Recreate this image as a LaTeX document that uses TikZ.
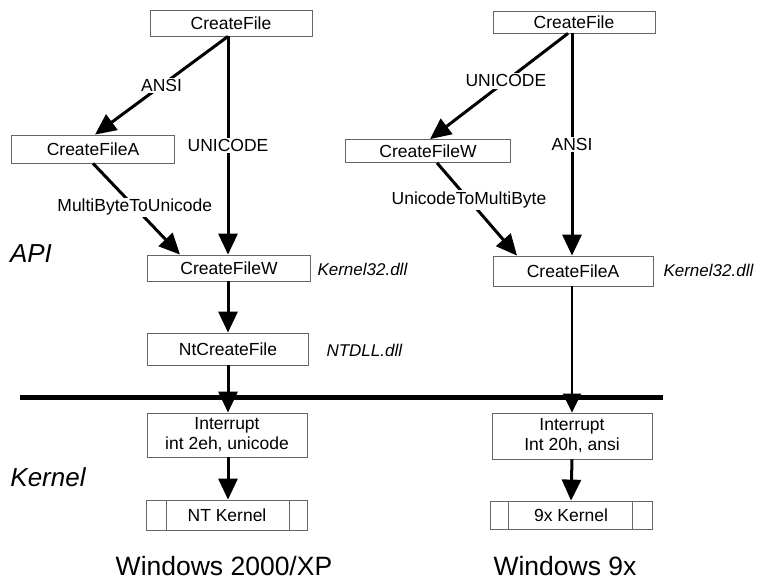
\documentclass[tikz,border=0pt]{standalone}
\usepackage{fontspec}
\setmainfont{Liberation Sans}
\usetikzlibrary{arrows.meta}
\begin{document}
\begin{tikzpicture}[x=1pt,y=-1pt,
  box/.style={draw=black!60,line width=0.8pt,inner sep=0pt,font=\fontsize{17.5}{20}\selectfont,align=center},
  arr/.style={line width=3pt,-{Triangle[length=21pt,width=19pt]}},
  thinarr/.style={line width=2pt,-{Triangle[length=19pt,width=18pt]}},
  lbl/.style={fill=white,inner sep=1.5pt,font=\fontsize{17.5}{20}\selectfont},
  dll/.style={font=\fontsize{17}{20}\selectfont\itshape,anchor=west},
  big/.style={font=\fontsize{26.5}{30}\selectfont},
  side/.style={font=\fontsize{26}{30}\selectfont\itshape},
  boxline/.style={draw=black!60,line width=0.8pt}]
\useasboundingbox (0,0) rectangle (760,581);
% left column
\node[box,minimum width=162pt,minimum height=26pt] (cf1) at (231,23) {CreateFile};
\node[box,minimum width=163pt,minimum height=28pt] (cfa1) at (93,149) {CreateFileA};
\node[box,minimum width=163pt,minimum height=26pt] (cfw1) at (229,268) {CreateFileW};
\node[box,minimum width=161pt,minimum height=32pt] (nt1) at (228,349) {NtCreateFile};
\node[box,minimum width=160pt,minimum height=44pt] (int1) at (227,435) {Interrupt\\int 2eh, unicode};
\node[box,minimum width=161pt,minimum height=30pt] (k1) at (227,515) {NT Kernel};
\draw[boxline] ([xshift=20pt]k1.north west) -- ([xshift=20pt]k1.south west);
\draw[boxline] ([xshift=-19pt]k1.north east) -- ([xshift=-19pt]k1.south east);
% right column
\node[box,minimum width=162pt,minimum height=22pt] (cf2) at (574,22) {CreateFile};
\node[box,minimum width=165pt,minimum height=23pt] (cfw2) at (428,151) {CreateFileW};
\node[box,minimum width=160pt,minimum height=30pt] (cfa2) at (573,271) {CreateFileA};
\node[box,minimum width=160pt,minimum height=46pt] (int2) at (572,436) {Interrupt\\Int 20h, ansi};
\node[box,minimum width=162pt,minimum height=28pt] (k2) at (571,515) {9x Kernel};
\draw[boxline] ([xshift=19pt]k2.north west) -- ([xshift=19pt]k2.south west);
\draw[boxline] ([xshift=-20pt]k2.north east) -- ([xshift=-20pt]k2.south east);
% dll labels
\node[dll] (kd1) at (314,269) {Kernel32.dll};
\node[dll] (ntd) at (323,350) {NTDLL.dll};
\node[dll] (kd2) at (660,270) {Kernel32.dll};
% side labels
\node[side] (api) at (31,254) {API};
\node[side] (kern) at (48,477) {Kernel};
\node[big] (w2k) at (224,566) {Windows 2000/XP};
\node[big] (w9x) at (565,566) {Windows 9x};
% separator
\coordinate (sepL) at (20,397);
\coordinate (sepR) at (663,397);
\draw[line width=5pt] (sepL) -- (sepR);
% left arrows
\draw[arr] ([xshift=-3pt]cf1.south) -- ([xshift=2pt]cfa1.north) node[lbl,pos=0.5] (l1) {ANSI};
\draw[arr] ([xshift=-3pt]cf1.south) -- ([xshift=-1pt]cfw1.north) node[lbl,pos=0.5] (l2) {UNICODE};
\draw[arr] (cfa1.south) -- ([xshift=-49pt]cfw1.north) node[lbl,pos=0.48] (l3) {MultiByteToUnicode};
\draw[arr] ([xshift=-1pt]cfw1.south) -- (nt1.south |- nt1.north);
\draw[arr] (nt1.south) -- ([xshift=1pt]int1.north);
\draw[arr] ([xshift=1pt]int1.south) -- ([xshift=1pt]k1.north);
% right arrows
\draw[arr] ([xshift=-6pt]cf2.south) -- ([xshift=2pt]cfw2.north) node[lbl,pos=0.45] (r1) {UNICODE};
\draw[arr] ([xshift=-2pt]cf2.south) -- ([xshift=-1pt]cfa2.north) node[lbl,pos=0.5] (r2) {ANSI};
\draw[arr] ([xshift=9pt]cfw2.south) -- ([xshift=-56pt]cfa2.north) node[lbl,pos=0.4] (r3) {UnicodeToMultiByte};
\draw[thinarr] ([xshift=-1pt]cfa2.south) -- (int2.north);
\draw[arr] (int2.south) -- (k2.north);
\end{tikzpicture}
\end{document}
